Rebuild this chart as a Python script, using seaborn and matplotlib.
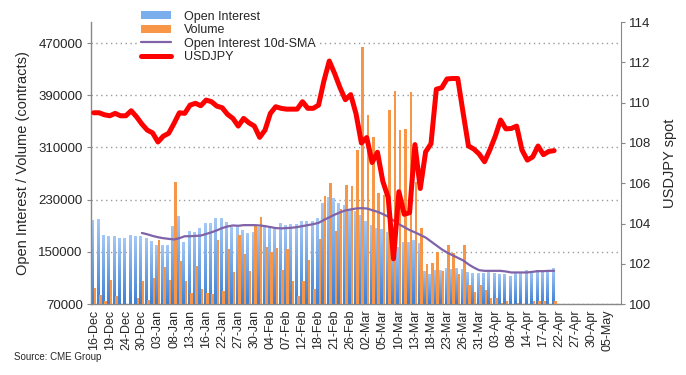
import numpy as np
import pandas as pd
import seaborn as sns
import matplotlib.pyplot as plt
from matplotlib.patches import Patch
from matplotlib.lines import Line2D
from matplotlib.colors import LinearSegmentedColormap

sns.set_style('white')
plt.rcParams['font.family'] = ['Liberation Sans', 'DejaVu Sans']

# trading days shown on the axis (CME calendar, holidays removed)
holidays = ['2019-12-25', '2020-01-01', '2020-01-20', '2020-02-17', '2020-04-10']
days = pd.bdate_range('2019-12-16', '2020-05-07')
days = days[~days.isin(pd.to_datetime(holidays))]
dates = [d.strftime('%d-%b') for d in days]

# contracts
open_interest = [199000, 200000, 176000, 174000, 174000, 171000, 171000, 176000, 174000, 174000,
                 172000, 166500, 160500, 160500, 160500, 189500, 205000, 165000, 182000, 181000,
                 186500, 194000, 194000, 202000, 202000, 196000, 188000, 188000, 183000, 179000,
                 180000, 188000, 188000, 186000, 186000, 194000, 191000, 192000, 192000, 197000,
                 197000, 197000, 202000, 225000, 234000, 232000, 225000, 222000, 215000, 212000,
                 206000, 197000, 191000, 186000, 185000, 181000, 160000, 158000, 165000, 165000,
                 168000, 163000, 121000, 116000, 122000, 122000, 125000, 124000, 126000, 124000,
                 119500, 118000, 117000, 118000, 119000, 118000, 116000, 116000, 113000, 118000,
                 117000, 122000, 121000, 122000, 122000, 123000, 125000]
volume = [95000, 84000, 75000, 107000, 82000, 66000, 66000, 66000, 79000, 105000,
          76000, 110000, 168000, 127000, 107000, 257000, 136000, 105000, 87000, 128000,
          93000, 87000, 85000, 168000, 90000, 154000, 119000, 176000, 147000, 121000,
          190000, 203000, 157000, 150000, 156000, 122000, 154000, 105000, 82000, 105000,
          137000, 93000, 170000, 236000, 255000, 182000, 216000, 252000, 251000, 306000,
          464000, 360000, 326000, 240000, 237000, 367000, 396000, 337000, 339000, 395000,
          257000, 186000, 132000, 133000, 150000, 120000, 160000, 148000, 116000, 160000,
          99000, 89000, 99000, 91000, 79000, 80000, 71000, 75000, 69000, 72000,
          68000, 68000, 75000, 75000, 75000, 68000, 75000]
oi_sma = [np.nan] * 9 + [
    179000, 177000, 174500, 172500, 171000, 170000, 169000, 171000, 174000, 174000,
    174500, 175000, 177500, 180000, 183000, 186500, 189000, 190500, 190000, 191000,
    191000, 191000, 190500, 189500, 188000, 186500, 186000, 186500, 187000, 188000,
    189500, 191000, 192500, 194500, 199000, 203000, 207000, 210500, 213500, 215000,
    216500, 217000, 216500, 214000, 211500, 208000, 204000, 198000, 192500, 188000,
    183500, 180000, 176000, 172000, 166000, 160000, 154000, 149000, 145000, 141000,
    137000, 131000, 126000, 122000, 121000, 121000, 121000, 121000, 120000, 118500,
    118500, 118500, 118500, 119500, 120500, 120500, 121000, 121000]
usdjpy = [109.50, 109.50, 109.40, 109.35, 109.47, 109.35, 109.35, 109.60, 109.30, 108.94,
          108.64, 108.50, 108.05, 108.34, 108.48, 108.97, 109.50, 109.47, 109.88, 109.97,
          109.85, 110.13, 110.05, 109.83, 109.75, 109.42, 109.22, 108.84, 109.22, 109.00,
          108.84, 108.28, 108.64, 109.47, 109.80, 109.72, 109.68, 109.68, 109.68, 110.05,
          109.72, 109.72, 109.88, 111.08, 112.07, 111.45, 110.75, 110.15, 110.40, 109.45,
          108.00, 108.27, 107.03, 107.54, 106.10, 105.30, 102.25, 105.58, 104.46, 104.54,
          107.92, 105.74, 107.56, 107.96, 110.67, 110.74, 111.18, 111.20, 111.20, 109.50,
          107.85, 107.70, 107.45, 107.07, 107.66, 108.33, 109.14, 108.70, 108.72, 108.84,
          107.65, 107.15, 107.31, 107.85, 107.42, 107.58, 107.62]

n = len(usdjpy)
series = ['Open Interest', 'Volume']
df = pd.DataFrame({
    'date': dates[:n] * 2,
    'series': [series[0]] * n + [series[1]] * n,
    'value': open_interest + volume,
})

blue_mid = '#7AAEEC'
orange = '#F79646'
purple = '#7F62A8'

fig = plt.figure(figsize=(6.86, 3.75), dpi=100)
ax = fig.add_axes([0.1327, 0.189, 0.7726, 0.752])

sns.barplot(data=df, x='date', y='value', hue='series', order=dates, hue_order=series,
            palette=[blue_mid, orange], saturation=1, width=0.94, gap=0.0,
            linewidth=0, edgecolor='none', legend=False, ax=ax)

ymin, ymax = 70000, 502000
# blue bars get a dark-to-light vertical gradient (bottom to top of each bar)
cmap = LinearSegmentedColormap.from_list('oi', ['#3E80D4', '#A6C9F5'])
grad = np.linspace(0, 1, 256).reshape(-1, 1)
for rect in ax.containers[0]:
    x0 = rect.get_x()
    x1 = x0 + rect.get_width()
    top = rect.get_y() + rect.get_height()
    rect.set_zorder(2)
    if not np.isfinite(top):
        continue
    im = ax.imshow(grad, cmap=cmap, origin='lower', aspect='auto',
                   extent=[x0, x1, ymin, top], zorder=2.2, interpolation='bilinear')
    im.set_clip_path(rect)
for rect in ax.containers[1]:
    rect.set_zorder(3)

sns.lineplot(x=np.arange(n), y=oi_sma, color=purple, lw=1.6, ax=ax, zorder=4)

ax.set_xlim(-0.5, len(dates) - 0.5)
ax.set_ylim(ymin, ymax)
ax.set_yticks(range(70000, 470001, 80000))
ax.set_yticklabels([str(v) for v in range(70000, 470001, 80000)], fontsize=9.5)
ax.set_xticks(range(0, len(dates), 3))
ax.set_xticklabels(dates[::3], rotation=90, fontsize=9)
ax.set_xticks(np.arange(-0.5, len(dates), 1), minor=True)
ax.tick_params(axis='x', which='major', length=0, pad=4)
ax.tick_params(axis='x', which='minor', length=3, color='#888888', width=0.8)
ax.tick_params(axis='y', length=3, color='#888888', width=0.8, pad=3, direction='out', left=True)
ax.grid(axis='y', color='#999999', linestyle=(0, (1, 2.5)), lw=1)
ax.set_axisbelow(True)
ax.set_xlabel('')
ax.set_ylabel('Open Interest / Volume (contracts)', fontsize=10.5, labelpad=6)
for side in ['left', 'bottom']:
    ax.spines[side].set_color('#888888')
    ax.spines[side].set_linewidth(1)
ax.spines['top'].set_visible(False)
ax.spines['right'].set_visible(False)

ax2 = ax.twinx()
sns.lineplot(x=np.arange(n), y=usdjpy, color='#FF0000', lw=3.6, ax=ax2, zorder=5)
ax2.lines[0].set_solid_capstyle('round')
ax2.lines[0].set_solid_joinstyle('round')
ax2.set_xlim(-0.5, len(dates) - 0.5)
ax2.set_ylim(100, 114)
ax2.set_yticks(range(100, 115, 2))
ax2.set_yticklabels([str(v) for v in range(100, 115, 2)], fontsize=9.5)
ax2.tick_params(axis='y', length=3, color='#888888', width=0.8, pad=3, direction='out', right=True)
ax2.set_ylabel('USDJPY spot', fontsize=10.5, labelpad=8)
ax2.set_xlabel('')
for side in ['top', 'left', 'bottom']:
    ax2.spines[side].set_visible(False)
ax2.spines['right'].set_color('#888888')
ax2.grid(False)

handles = [Patch(facecolor=blue_mid, edgecolor='none'),
           Patch(facecolor=orange, edgecolor='none'),
           Line2D([], [], color=purple, lw=1.6),
           Line2D([], [], color='#FF0000', lw=3.6, solid_capstyle='round')]
labels = ['Open Interest', 'Volume', 'Open Interest 10d-SMA', 'USDJPY']
leg = fig.legend(handles, labels, loc='upper left', bbox_to_anchor=(0.193, 0.995),
                 fontsize=9, frameon=True, facecolor='white', edgecolor='none',
                 framealpha=1, labelspacing=0.12, handlelength=2.4, handletextpad=1.0,
                 borderpad=0.2, handleheight=0.6)
leg.set_zorder(10)

fig.text(0.02, 0.04, 'Source: CME Group', fontsize=7)

fig.savefig('out.png', dpi=100)
